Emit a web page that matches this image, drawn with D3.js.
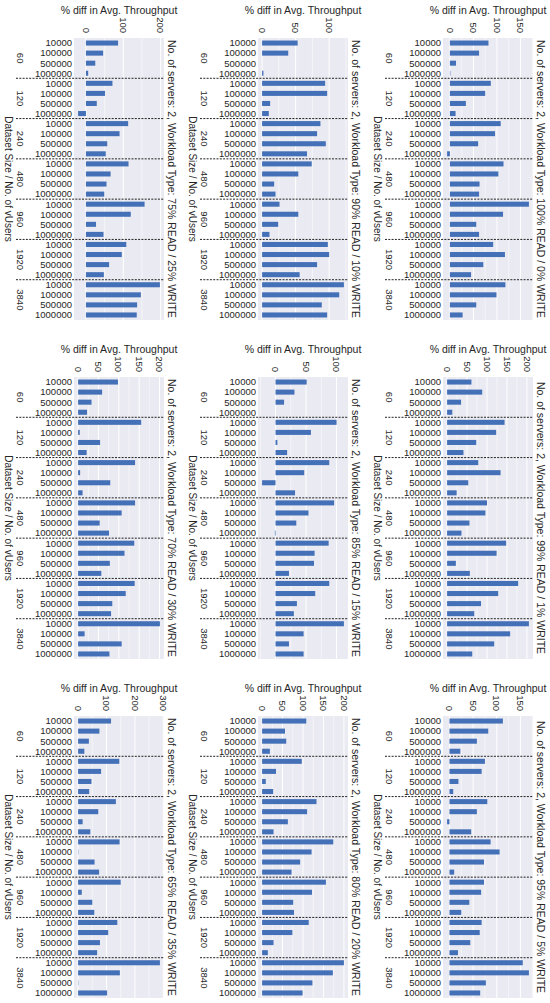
<!DOCTYPE html>
<html>
<head>
<meta charset="utf-8">
<script src="https://cdn.jsdelivr.net/npm/d3@7"></script>
<style>
  body { margin: 0; background: #fff; }
  svg { font-family: "Liberation Sans", Arial, sans-serif; }
  .tick-label { font-size: 9.5px; fill: #262626; }
  .axis-title { font-size: 10px; fill: #262626; }
  .top-title { font-size: 10.5px; fill: #262626; }
  .side-title { font-size: 10.5px; fill: #262626; }
</style>
</head>
<body>
<svg id="chart" width="550" height="1003"></svg>
<script>
// No. of vUsers groups and dataset sizes inside each group
const vUsers = ['60', '120', '240', '480', '960', '1920', '3840'];
const datasetSizes = ['10000', '100000', '500000', '1000000'];

// % diff in avg. throughput, 4 dataset sizes per vUsers group
const read75 = [86, 46, 25, 6, 71, 51, 29, -21, 113, 90, 57, 53, 114, 66, 55, 49, 157, 120, 27, 47, 108, 96, 62, 48, 198, 147, 137, 136];
const read90 = [53, 39, 0, 2, 94, 97, 12, 10, 87, 82, 95, 67, 74, 54, 18, 20, 26, 54, 24, 11, 98, 100, 82, 56, 122, 115, 89, 97];
const read100 = [82, 62, 13, 1, 87, 75, 34, 12, 108, 96, 60, -6, 114, 103, 63, 62, 168, 113, 56, 62, 92, 117, 71, 45, 118, 99, 56, 27];
const read70 = [98, 59, 33, 22, 155, 4, 54, 21, 140, 5, 79, 11, 140, 107, 53, 76, 138, 114, 78, 57, 139, 117, 84, 81, 201, 16, 107, 77];
const read85 = [51, 31, 14, 0, 100, 58, 3, 19, 88, 47, -22, 32, 96, 54, 34, -1, 87, 64, 63, 22, 88, 65, 35, 30, 112, 46, 22, 46];
const read99 = [61, 88, 35, 13, 144, 123, 73, 41, 78, 134, 53, 24, 100, 96, 56, 36, 148, 124, 22, 57, 178, 128, 85, 68, 205, 158, 118, 63];
const read65 = [116, 75, 38, 22, 145, 81, 47, 39, 133, 71, 16, 43, 146, 1, 58, 74, 150, 13, 50, 57, 138, 106, 77, 67, 288, 147, 1, 102];
const read80 = [108, 56, 59, 19, 97, 34, 9, 27, 133, 110, 63, 28, 174, 121, 93, 72, 156, 122, 76, 78, 114, 74, 28, 14, 200, 173, 123, 99];
const read95 = [113, 82, 58, 23, 75, 68, 19, 8, 80, 58, -5, 46, 87, 106, 73, 10, 73, 67, 42, 25, 68, 64, 44, 18, 155, 168, 77, 65];

// x tick labels per panel
const ticks100 = [0, 100, 200];
const ticks50a = [0, 50, 100];
const ticks50b = [0, 50, 100, 150];
const ticks50c = [0, 50, 100, 150, 200];
const ticks100b = [0, 100, 200, 300];

// panels, row by row
const panels = [
  {title: '75% READ / 25% WRITE', values: read75, ticks: ticks100},
  {title: '90% READ / 10% WRITE', values: read90, ticks: ticks50a},
  {title: '100% READ / 0% WRITE', values: read100, ticks: ticks50b},
  {title: '70% READ / 30% WRITE', values: read70, ticks: ticks50c},
  {title: '85% READ / 15% WRITE', values: read85, ticks: ticks50a},
  {title: '99% READ / 1% WRITE', values: read99, ticks: ticks50c},
  {title: '65% READ / 35% WRITE', values: read65, ticks: ticks100b},
  {title: '80% READ / 20% WRITE', values: read80, ticks: ticks50c},
  {title: '95% READ / 5% WRITE', values: read95, ticks: ticks50b}
];

class WorkloadBars {

  constructor(_config, _panel) {
    this.config = {
      parentElement: _config.parentElement,
      left: _config.left,
      top: _config.top,
      width: 90,
      height: 282,
      barColor: '#4470b8',
      bgColor: '#eaeaf2'
    };
    this.panel = _panel;
    this.initVis();
  }

  initVis() {
    let vis = this;

    vis.chart = d3.select(vis.config.parentElement).append('g')
        .attr('transform', `translate(${vis.config.left},${vis.config.top})`);

    vis.data = [];
    vUsers.forEach((u, gi) => {
      datasetSizes.forEach((s, si) => {
        vis.data.push({key: `${u}|${s}`, group: u, size: s, value: vis.panel.values[gi * 4 + si]});
      });
    });

    // matplotlib style limits: include zero, 5% margin each side
    let lo = Math.min(0, d3.min(vis.data, d => d.value));
    let hi = Math.max(0, d3.max(vis.data, d => d.value));
    let pad = (hi - lo) * 0.05;

    vis.xScale = d3.scaleLinear()
        .domain([lo - pad, hi + pad])
        .range([0, vis.config.width]);

    vis.yScale = d3.scaleBand()
        .domain(vis.data.map(d => d.key))
        .range([0, vis.config.height])
        .paddingInner(0.5)
        .paddingOuter(0.25);

    vis.renderVis();
  }

  renderVis() {
    let vis = this;
    const w = vis.config.width, h = vis.config.height;
    const [d0, d1] = vis.xScale.domain();

    vis.chart.append('rect')
        .attr('width', w)
        .attr('height', h)
        .attr('fill', vis.config.bgColor);

    // minor grid at half steps
    let half = (vis.panel.ticks[1] - vis.panel.ticks[0]) / 2;
    let minor = d3.range(Math.ceil(d0 / half) * half, d1, half)
        .filter(t => !vis.panel.ticks.includes(t));
    vis.chart.selectAll('.minor-grid')
        .data(minor)
      .join('line')
        .attr('class', 'minor-grid')
        .attr('x1', d => vis.xScale(d))
        .attr('x2', d => vis.xScale(d))
        .attr('y2', h)
        .attr('stroke', '#fff')
        .attr('stroke-width', 0.5);

    let major = vis.panel.ticks.filter(t => t >= d0 && t <= d1);
    vis.chart.selectAll('.major-grid')
        .data(major)
      .join('line')
        .attr('class', 'major-grid')
        .attr('x1', d => vis.xScale(d))
        .attr('x2', d => vis.xScale(d))
        .attr('y2', h)
        .attr('stroke', '#fff')
        .attr('stroke-width', 1);

    vis.chart.selectAll('.bar')
        .data(vis.data)
      .join('rect')
        .attr('class', 'bar')
        .attr('x', d => vis.xScale(Math.min(0, d.value)))
        .attr('width', d => Math.abs(vis.xScale(d.value) - vis.xScale(0)))
        .attr('y', d => vis.yScale(d.key))
        .attr('height', vis.yScale.bandwidth())
        .attr('fill', vis.config.barColor);

    // dashed separators between vUsers groups
    const center = d => vis.yScale(d.key) + vis.yScale.bandwidth() / 2;
    let seps = d3.range(1, vUsers.length).map(g => (center(vis.data[g * 4 - 1]) + center(vis.data[g * 4])) / 2);
    vis.chart.selectAll('.sep')
        .data(seps)
      .join('line')
        .attr('class', 'sep')
        .attr('x1', -58)
        .attr('x2', w)
        .attr('y1', d => d)
        .attr('y2', d => d)
        .attr('stroke', '#222')
        .attr('stroke-width', 1)
        .attr('stroke-dasharray', '2,1.3');

    // dataset size labels
    vis.chart.selectAll('.size-label')
        .data(vis.data)
      .join('text')
        .attr('class', 'tick-label size-label')
        .attr('x', -2)
        .attr('y', d => center(d))
        .attr('dy', '0.35em')
        .attr('text-anchor', 'end')
        .text(d => d.size);

    // vUsers group labels, rotated
    vis.chart.selectAll('.group-label')
        .data(vUsers)
      .join('text')
        .attr('class', 'tick-label group-label')
        .attr('transform', (d, i) => {
          let y = (center(vis.data[i * 4]) + center(vis.data[i * 4 + 3])) / 2;
          return `translate(-54,${y}) rotate(90)`;
        })
        .attr('dy', '0.35em')
        .attr('text-anchor', 'middle')
        .text(d => d);

    // x tick labels, rotated, on top
    vis.chart.selectAll('.x-label')
        .data(major)
      .join('text')
        .attr('class', 'tick-label x-label')
        .attr('transform', d => `translate(${vis.xScale(d)},-5) rotate(90)`)
        .attr('dy', '0.35em')
        .attr('text-anchor', 'end')
        .text(d => d);

    vis.chart.append('text')
        .attr('class', 'top-title')
        .attr('x', w / 2)
        .attr('y', -24)
        .attr('text-anchor', 'middle')
        .text('% diff in Avg. Throughput');

    vis.chart.append('text')
        .attr('class', 'axis-title')
        .attr('transform', `translate(-66,${h / 2}) rotate(90)`)
        .attr('dy', '0.35em')
        .attr('text-anchor', 'middle')
        .text('Dataset Size / No. of vUsers');

    vis.chart.append('text')
        .attr('class', 'side-title')
        .attr('transform', `translate(${w + 8},${h / 2}) rotate(90)`)
        .attr('dy', '0.35em')
        .attr('text-anchor', 'middle')
        .text(`No. of servers: 2, Workload Type: ${vis.panel.title}`);
  }
}

const colLeft = [74, 258, 443];
const rowTop = [38, 377, 716];

panels.forEach((p, i) => {
  new WorkloadBars({
    parentElement: '#chart',
    left: colLeft[i % 3],
    top: rowTop[Math.floor(i / 3)]
  }, p);
});
</script>
</body>
</html>
